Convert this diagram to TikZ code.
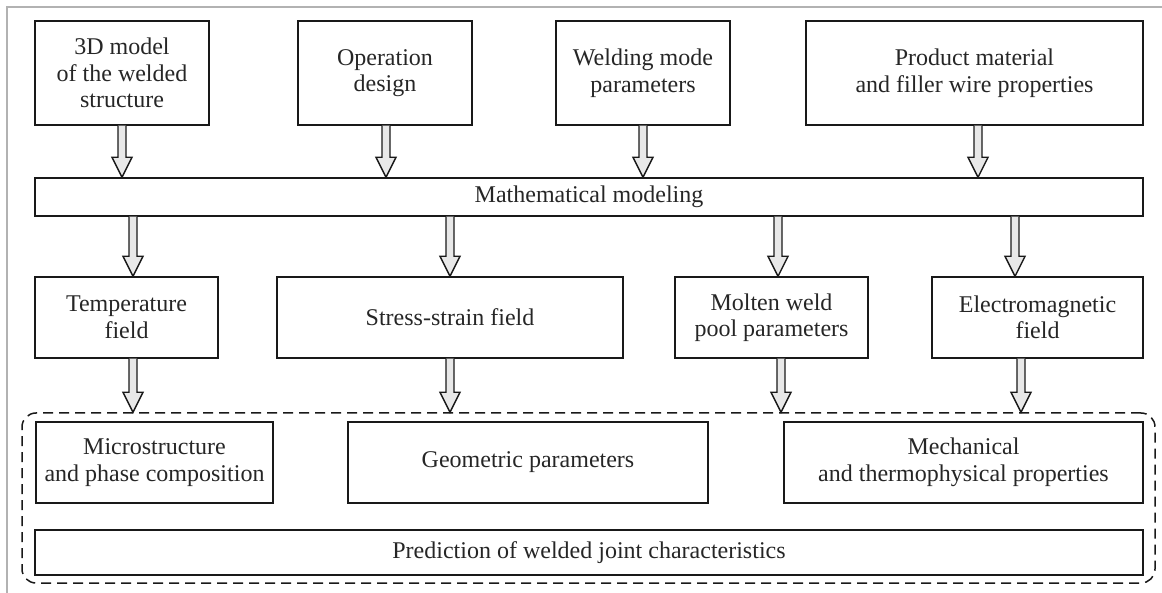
\documentclass[tikz,border=0pt]{standalone}
\usepackage{fontspec}
\setmainfont{Liberation Serif}
\usetikzlibrary{calc}
\tikzset{
  box/.style={draw=black!90, line width=1.4pt, align=center, inner sep=0pt,
    text=black!85, font=\fontsize{24}{26.5}\selectfont},
  dbox/.style={draw=black!90, line width=1.5pt, dash pattern=on 10pt off 6pt,
    rounded corners=14pt, inner sep=0pt},
  harrow/.style={draw=black!90, line width=1.4pt, fill=black!9, line join=miter},
  frame/.style={draw=black!30, line width=1.5pt}
}
\newcommand\bx[6]{%
  \node[box, minimum width={#4pt-#2pt}, minimum height={#5pt-#3pt}]
    (#1) at ({(#2+#4)/2},{(#3+#5)/2}) {#6};}
\newcommand\harr[3]{%
  \coordinate (hx) at (#3,0);
  \draw[harrow] let \p1=(#1.south -| hx), \p2=(#2.north -| hx) in
    (\x1-4pt,\y1) -- (\x1-4pt,\y2+20pt) -- (\x1-10pt,\y2+20pt) -- (\x1,\y2)
    -- (\x1+10pt,\y2+20pt) -- (\x1+4pt,\y2+20pt) -- (\x1+4pt,\y1);}
\begin{document}
\begin{tikzpicture}[x=1pt,y=-1pt]
\useasboundingbox (0,0) rectangle (1162,593);
\draw[frame] (7,593) -- (7,7) -- (1162,7);
% top row
\bx{A}{35}{21}{209}{125}{3D model\\of the welded\\structure}
\bx{B}{298}{21}{472}{125}{Operation\\design}
\bx{C}{556}{21}{730}{125}{Welding mode\\parameters}
\bx{D}{806}{21}{1143}{125}{Product material\\and filler wire properties}
% modeling
\bx{M}{35}{178}{1143}{216}{Mathematical modeling}
% second row
\bx{T}{35}{277}{218}{358}{Temperature\\field}
\bx{S}{277}{277}{623}{358}{Stress-strain field}
\bx{W}{675}{277}{868}{358}{Molten weld\\pool parameters}
\bx{E}{932}{277}{1143}{358}{Electromagnetic\\field}
% dashed group
\node[dbox, minimum width=1133pt, minimum height=170pt] (G) at (588.5,498) {};
\bx{P1}{36}{422}{273}{503}{Microstructure\\and phase composition}
\bx{P2}{348}{422}{708}{503}{Geometric parameters}
\bx{P3}{784}{422}{1143}{503}{Mechanical\\and thermophysical properties}
\bx{R}{35}{530}{1143}{575}{Prediction of welded joint characteristics}
% arrows
\harr{A}{M}{122}
\harr{B}{M}{386}
\harr{C}{M}{643}
\harr{D}{M}{978}
\harr{M}{T}{133}
\harr{M}{S}{450}
\harr{M}{W}{778}
\harr{M}{E}{1015}
\harr{T}{G}{133}
\harr{S}{G}{450}
\harr{W}{G}{781}
\harr{E}{G}{1021}
\end{tikzpicture}
\end{document}
